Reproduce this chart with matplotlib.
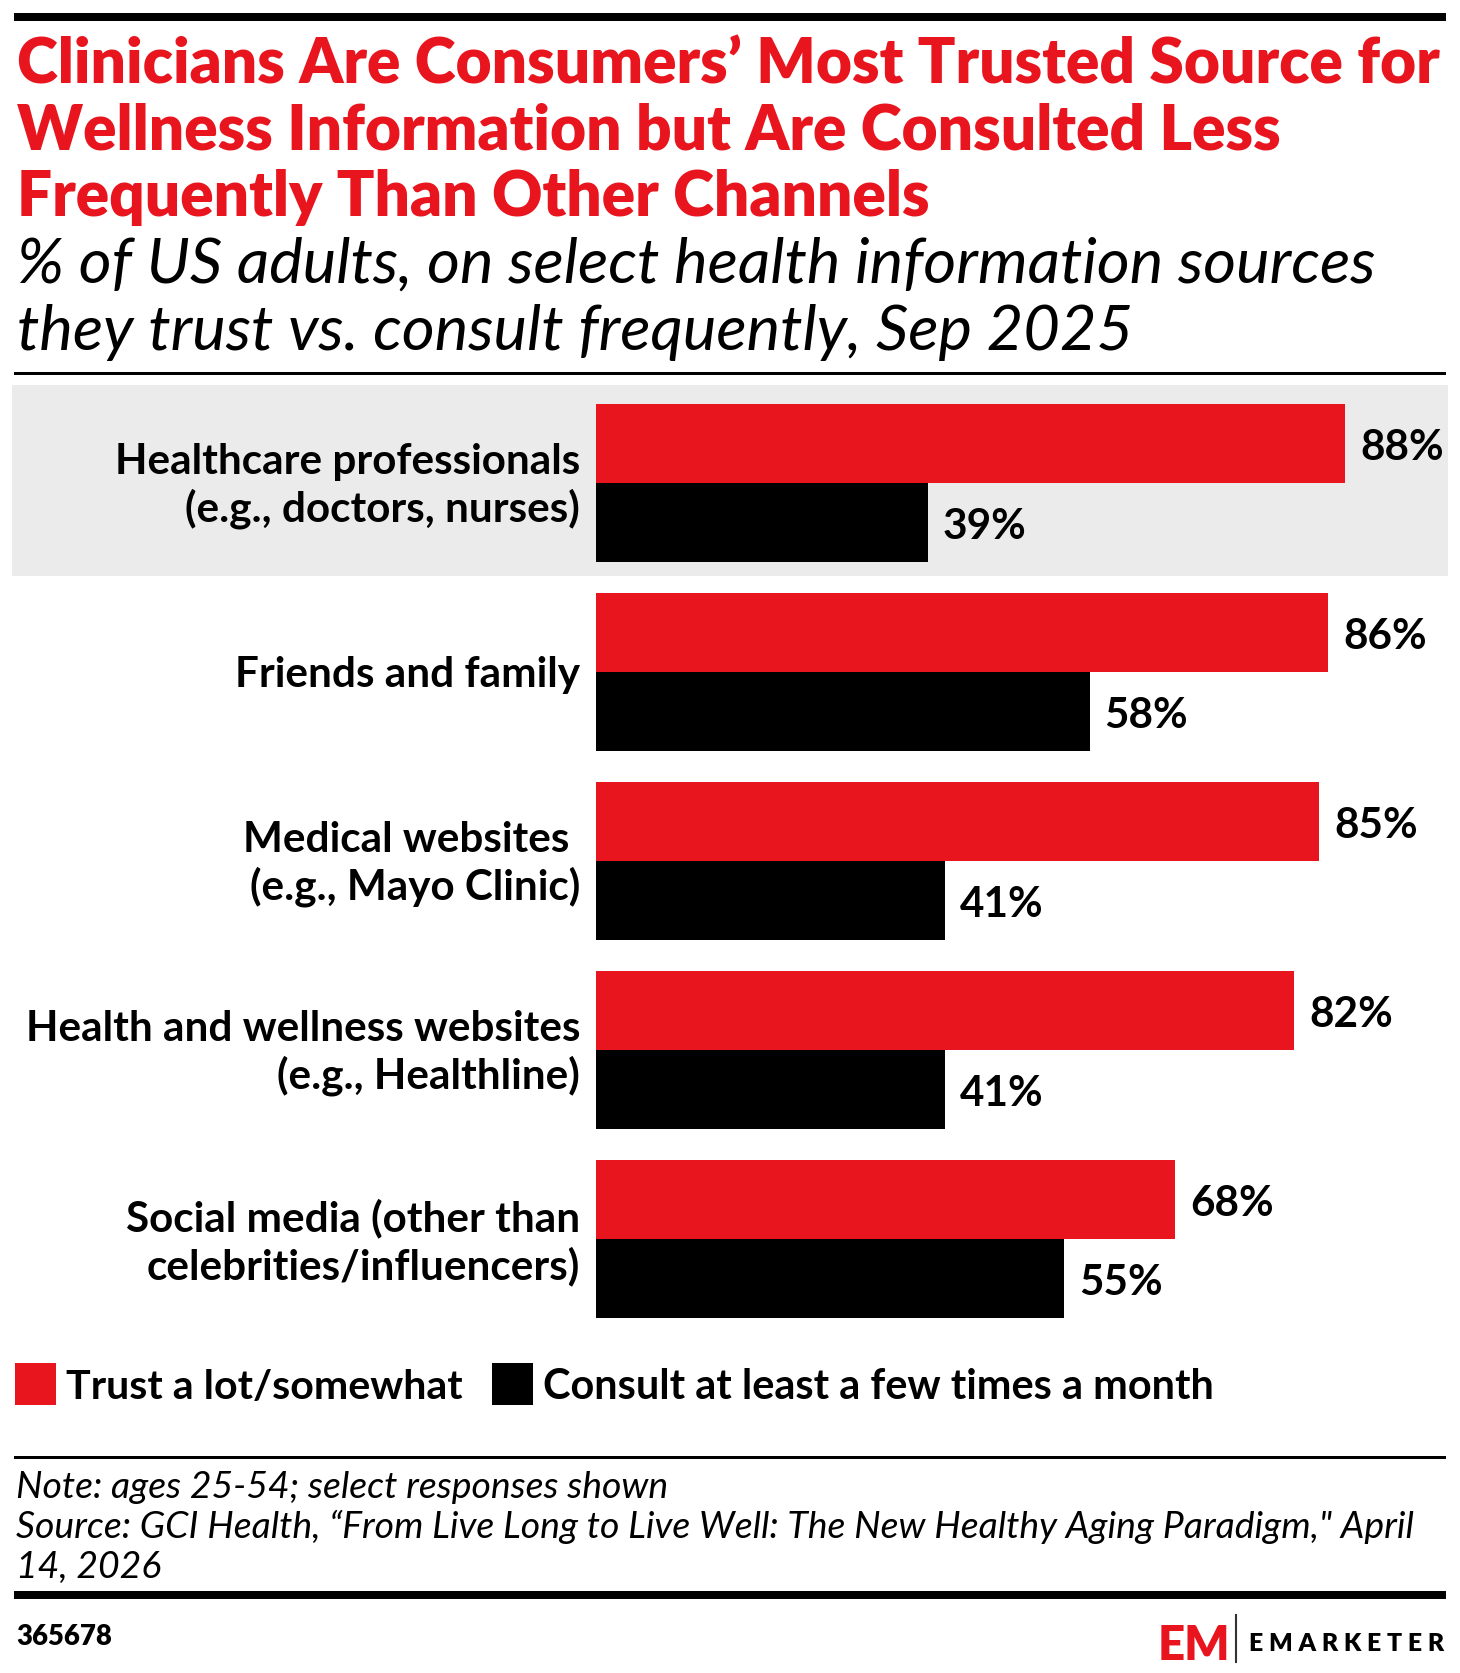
import matplotlib
matplotlib.use("Agg")
import matplotlib.pyplot as plt
from matplotlib.patches import Rectangle
from matplotlib.transforms import blended_transform_factory
from matplotlib.lines import Line2D

# ---------------- data ----------------
categories = [
    "Healthcare professionals\n(e.g., doctors, nurses)",
    "Friends and family",
    "Medical websites \n(e.g., Mayo Clinic)",
    "Health and wellness websites\n(e.g., Healthline)",
    "Social media (other than\ncelebrities/influencers)",
]
trust = [88, 86, 85, 82, 68]
consult = [39, 58, 41, 41, 55]
series_names = ["Trust a lot/somewhat", "Consult at least a few times a month"]
title_lines = [
    "Clinicians Are Consumers\u2019 Most Trusted Source for",
    "Wellness Information but Are Consulted Less",
    "Frequently Than Other Channels",
]
subtitle_lines = [
    "% of US adults, on select health information sources",
    "they trust vs. consult frequently, Sep 2025",
]
note_lines = [
    "Note: ages 25-54; select responses shown",
    "Source: GCI Health, \u201cFrom Live Long to Live Well: The New Healthy Aging Paradigm,\" April",
    "14, 2026",
]
chart_id = "365678"

RED = "#e8141e"
BLACK = "#000000"
BAND = "#ebebeb"
FONT = "Lato"

W, H = 1460, 1673
fig = plt.figure(figsize=(W / 100, H / 100), dpi=100)
fig.patch.set_facecolor("white")
renderer = fig.canvas.get_renderer()


def fx(x):
    return x / W


def fy(y):
    return 1 - y / H


def hrect(x0, x1, y0, y1, color):
    fig.add_artist(Rectangle((fx(x0), fy(y1)), fx(x1) - fx(x0), (y1 - y0) / H,
                             transform=fig.transFigure, color=color, lw=0))


def fit(t, target):
    w = t.get_window_extent(renderer).width
    t.set_fontsize(t.get_fontsize() * target / w)
    return t.get_fontsize()


# ---------------- rules ----------------
hrect(14, 1446, 13, 21, BLACK)
hrect(14, 1446, 372, 375, BLACK)
hrect(14, 1446, 1456, 1459, BLACK)
hrect(14, 1446, 1591, 1599, BLACK)

# ---------------- title ----------------
t0 = fig.text(fx(17), fy(84), title_lines[0], fontsize=40, fontweight="heavy",
              family=FONT, color=RED, va="baseline", ha="left")
tsize = fit(t0, 1421)
for i, ln in enumerate(title_lines[1:], start=1):
    fig.text(fx(17), fy(84 + 66 * i), ln, fontsize=tsize, fontweight="heavy",
             family=FONT, color=RED, va="baseline", ha="left")

s0 = fig.text(fx(17), fy(283), subtitle_lines[0], fontsize=36, style="italic",
              fontweight="normal", family=FONT, color=BLACK, va="baseline", ha="left")
ssize = fit(s0, 1359)
fig.text(fx(17), fy(350), subtitle_lines[1], fontsize=ssize, style="italic",
         fontweight="normal", family=FONT, color=BLACK, va="baseline", ha="left")

# ---------------- chart ----------------
px_per_pct = (1345 - 596) / 88.0
ax_left, ax_w = 596, 100 * px_per_pct
g_pitch = 189
g0_center = 483
ax_top = g0_center - g_pitch / 2
ax_h = g_pitch * len(categories)
ax = fig.add_axes([fx(ax_left), fy(ax_top + ax_h), ax_w / W, ax_h / H])
ax.set_xlim(0, 100)
ax.set_ylim(len(categories) - 0.5, -0.5)
ax.axis("off")

bh = 79 / g_pitch
ypos = list(range(len(categories)))

# highlight band on first group (pixel rows 385..576)
tr = blended_transform_factory(fig.transFigure, ax.transData)
band_top = (385 - g0_center) / g_pitch
ax.add_patch(Rectangle((fx(12), band_top), fx(1448) - fx(12), 191 / g_pitch,
                       transform=tr, color=BAND, lw=0, clip_on=False, zorder=0))

ax.barh([y - bh / 2 for y in ypos], trust, height=bh, color=RED, zorder=2)
ax.barh([y + bh / 2 for y in ypos], consult, height=bh, color=BLACK, zorder=2)

# label font size
probe = fig.text(0, 0, "Healthcare professionals", fontsize=28, fontweight="bold", family=FONT)
lsize = fit(probe, 465)
probe.remove()

for y, lab in zip(ypos, categories):
    ax.annotate(lab, xy=(0, y), xytext=(-16 * 0.72, -3 * 0.72), textcoords="offset points",
                ha="right", va="center", fontsize=lsize, fontweight="bold", family=FONT,
                linespacing=1.25, annotation_clip=False)

for y, v in zip(ypos, trust):
    ax.annotate(f"{v}%", xy=(v, y - bh / 2), xytext=(15 * 0.72, -4 * 0.72), textcoords="offset points",
                ha="left", va="center", fontsize=lsize, fontweight="bold", family=FONT,
                annotation_clip=False)
for y, v in zip(ypos, consult):
    ax.annotate(f"{v}%", xy=(v, y + bh / 2), xytext=(15 * 0.72, -4 * 0.72), textcoords="offset points",
                ha="left", va="center", fontsize=lsize, fontweight="bold", family=FONT,
                annotation_clip=False)

# ---------------- legend ----------------
hrect(15, 56, 1363, 1405, RED)
l1 = fig.text(fx(66), fy(1399), series_names[0], fontsize=lsize, fontweight="bold",
              family=FONT, va="baseline", ha="left")
fit(l1, 396)
hrect(492, 533, 1363, 1405, BLACK)
l2 = fig.text(fx(543), fy(1399), series_names[1], fontsize=lsize, fontweight="bold",
              family=FONT, va="baseline", ha="left")
fit(l2, 671)

# ---------------- notes ----------------
n1 = fig.text(fx(16), fy(1538), note_lines[1], fontsize=22, style="italic",
              family=FONT, va="baseline", ha="left")
nsize = fit(n1, 1398)
fig.text(fx(16), fy(1498), note_lines[0], fontsize=nsize, style="italic",
         family=FONT, va="baseline", ha="left")
fig.text(fx(16), fy(1578), note_lines[2], fontsize=nsize, style="italic",
         family=FONT, va="baseline", ha="left")

cid = fig.text(fx(16), fy(1645), chart_id, fontsize=19, fontweight="heavy", family=FONT,
               va="baseline", ha="left")
fit(cid, 96)

# ---------------- logo ----------------
fig.text(fx(1158), fy(1660), "EM", fontsize=34, fontweight="heavy", family=FONT,
         color=RED, va="baseline", ha="left")
fig.add_artist(Line2D([fx(1236), fx(1236)], [fy(1615), fy(1662)], color="#333333",
                      lw=1.5, transform=fig.transFigure))
lg = fig.text(fx(1249), fy(1651), "E M A R K E T E R", fontsize=21, fontweight="heavy",
              family=FONT, va="baseline", ha="left")
fit(lg, 194)

fig.savefig("out.png", dpi=100, facecolor="white")
